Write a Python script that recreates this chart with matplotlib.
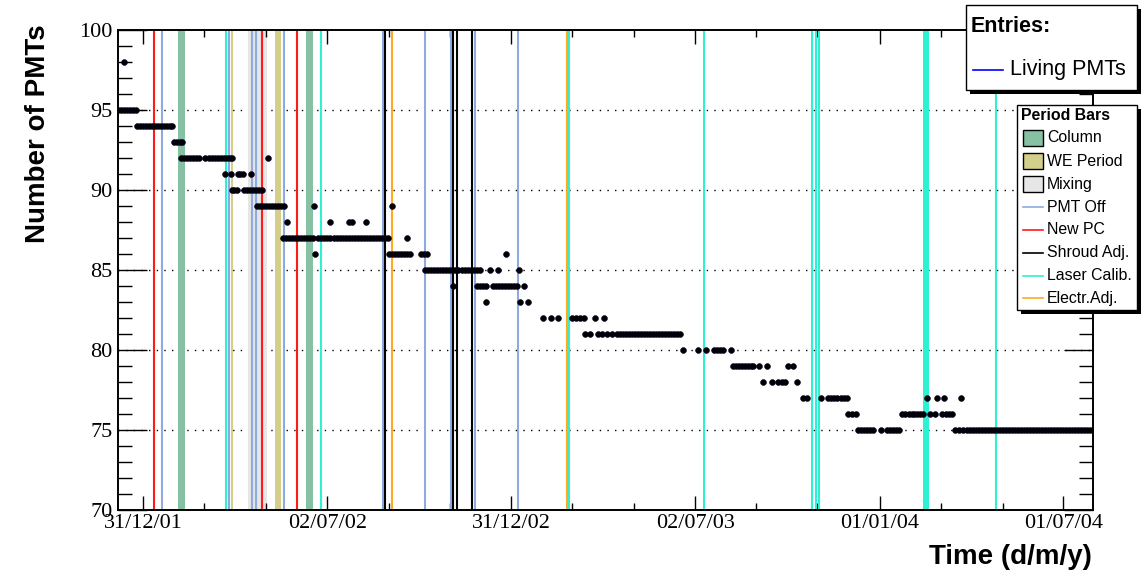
import numpy as np
import matplotlib
matplotlib.use('Agg')
import matplotlib.pyplot as plt
import matplotlib.dates as mdates
from matplotlib.patches import Rectangle

# ---------------- data ----------------
START = '2001-12-31'          # day offsets below are counted from this date

# Living PMTs : day offsets (from START) for each PMT count
d98 = [-19]
d95 = [-25, -22, -19, -16, -13, -10, -7]
d94 = [-6, -3, 0, 3, 6, 9, 12, 15, 18, 21, 24, 27, 29]
d93 = [31, 34, 37, 39]
d92 = [38, 41, 44, 47, 50, 53, 56, 62, 65, 68, 71, 74, 77, 80, 83, 86, 88, 124]
d91 = [81, 87, 94, 96, 99, 107]
d90 = [88, 90, 93, 100, 103, 106, 109, 112, 115, 118]
d89 = [113, 116, 119, 122, 125, 128, 131, 134, 137, 140, 170, 247]
d88 = [143, 186, 204, 207, 221]
d87 = [139, 142, 145, 148, 151, 154, 157, 160, 163, 166, 169, 174, 177, 180, 183,
       186, 189, 192, 195, 198, 201, 204, 207, 210, 213, 216, 219, 222, 225, 228,
       231, 234, 237, 240, 243, 262]
d86 = [171, 244, 247, 250, 253, 256, 259, 262, 265, 276, 279, 282, 360]
d85 = [280, 283, 286, 289, 292, 295, 298, 301, 304, 307, 310, 313, 316, 319, 322,
       325, 328, 331, 334, 344, 352, 373]
d84 = [308, 331, 334, 337, 340, 347, 350, 353, 356, 359, 362, 365, 368, 371, 378]
d83 = [340, 374, 382]
d82 = [397, 405, 412, 426, 430, 434, 438, 448, 457]
d81 = [439, 443, 451, 455, 460, 465, 470, 473, 476, 479, 482, 485, 488, 491, 494,
       497, 500, 503, 506, 509, 512, 515, 518, 521, 524, 527, 530, 533]
d80 = [536, 551, 559, 566, 569, 572, 575, 583]
d79 = [585, 588, 591, 594, 597, 600, 603, 605, 611, 619, 640, 645]
d78 = [615, 624, 630, 634, 637, 649]
d77 = [655, 659, 673, 680, 683, 686, 689, 692, 695, 698, 778, 788, 795, 812]
d76 = [699, 703, 707, 753, 756, 760, 763, 765, 768, 771, 774, 781, 786, 793, 797,
       800, 803]
d75 = [709, 712, 715, 718, 721, 724, 732, 738, 741, 744, 747, 750, 806, 810, 814,
       817, 820, 823, 826, 829, 832, 835, 838, 841, 844, 847, 850, 853, 856, 859,
       862, 865, 868, 871, 874, 877, 880, 883, 886, 889, 892, 895, 898, 901, 904,
       907, 910, 913, 916, 919, 922, 925, 928, 931, 934, 937, 940]

pmt_levels = [98, 95, 94, 93, 92, 91, 90, 89, 88, 87, 86, 85, 84, 83, 82, 81, 80,
              79, 78, 77, 76, 75]
pmt_day_lists = [d98, d95, d94, d93, d92, d91, d90, d89, d88, d87, d86, d85, d84,
                 d83, d82, d81, d80, d79, d78, d77, d76, d75]

# Period bars (day offsets)
column_bands = [(34.7, 41.7), (161.7, 168.7)]
we_bands = [(87.3, 89.3), (131.0, 137.0)]
mixing_bands = [(104.0, 123.0)]
pmt_off_days = [18.8, 85.8, 108.0, 112.6, 140.0, 238.0, 280.0, 306.0, 329.0, 372.0]
new_pc_days = [10.9, 118.0, 153.0]
shroud_days = [240.0, 308.0, 312.0, 326.0]
laser_days = [82.8, 176.6, 422.6, 556.5, 664.0, 667.7, 670.6, 775.0, 777.0, 779.0, 846.0]
electr_days = [152.3, 247.0, 420.6]

# axis ticks
tick_dates = ['2001-12-31', '2002-07-02', '2002-12-31', '2003-07-02', '2004-01-01', '2004-07-01']
tick_labels = ['31/12/01', '02/07/02', '31/12/02', '02/07/03', '01/01/04', '01/07/04']
minor_tick_days = [61, 122, 244, 305, 426, 487, 608, 669, 792, 853]
x_range_days = (-24.8, 942.5)
y_range = (70, 100)

# colours
c_column = '#85c1a2'
c_we = '#d3cf8b'
c_mixing = '#e6e6e6'
c_pmtoff = '#8eaadf'
c_newpc = '#ff1a1a'
c_shroud = '#000000'
c_laser = '#2ef0d2'
c_electr = '#ffaa22'

# ---------------- figure ----------------
W, H = 1143, 576
fig = plt.figure(figsize=(W / 100, H / 100), dpi=100)
fig.patch.set_facecolor('white')

L, R, T, B = 118, 1093, 30, 510
ax = fig.add_axes([L / W, 1 - B / H, (R - L) / W, (B - T) / H])

base = mdates.date2num(np.datetime64(START))

def X(d):
    return base + np.asarray(d, dtype=float)

# grid
for v in [75, 80, 85, 90, 95]:
    ax.axhline(v, color='black', lw=1.0, ls=(0, (1, 4.5)), zorder=0.5)

# bands
for a, b in mixing_bands:
    ax.axvspan(X(a), X(b), color=c_mixing, lw=0, zorder=1)
for a, b in we_bands:
    ax.axvspan(X(a), X(b), color=c_we, lw=0, zorder=1.1)
for a, b in column_bands:
    ax.axvspan(X(a), X(b), color=c_column, lw=0, zorder=1.1)

lw_v = 1.5
for d in pmt_off_days:
    ax.axvline(X(d), color=c_pmtoff, lw=lw_v, zorder=2)
for d in laser_days:
    ax.axvline(X(d), color=c_laser, lw=lw_v, zorder=2)
for d in electr_days:
    ax.axvline(X(d), color=c_electr, lw=lw_v, zorder=2)
for d in new_pc_days:
    ax.axvline(X(d), color=c_newpc, lw=lw_v, zorder=2)
for d in shroud_days:
    ax.axvline(X(d), color=c_shroud, lw=lw_v, zorder=2)

# data points
for lev, days in zip(pmt_levels, pmt_day_lists):
    ax.plot(X(days), [lev] * len(days), ls='none', marker='o', ms=4.2,
            mfc='black', mec='#000030', mew=0.4, zorder=5, clip_on=True)

ax.set_xlim(X(x_range_days[0]), X(x_range_days[1]))
ax.set_ylim(*y_range)

ax.set_xticks([mdates.date2num(np.datetime64(t)) for t in tick_dates])
ax.set_xticklabels(tick_labels)
ax.set_xticks(X(minor_tick_days), minor=True)
ax.set_yticks([70, 75, 80, 85, 90, 95, 100])
ax.set_yticks(np.arange(70, 101, 1), minor=True)

for lab in ax.get_xticklabels() + ax.get_yticklabels():
    lab.set_family('Liberation Serif')
    lab.set_fontsize(16)

ax.tick_params(axis='both', which='both', direction='in', top=True, right=True,
               width=1.0, color='black')
ax.tick_params(axis='x', which='major', length=10.4, pad=3)
ax.tick_params(axis='x', which='minor', length=5.2)
ax.tick_params(axis='y', which='major', length=20.9, pad=4)
ax.tick_params(axis='y', which='minor', length=10.4)
for s in ax.spines.values():
    s.set_linewidth(1.4)
    s.set_zorder(6)

# ---------------- overlay (titles, legends) ----------------
ov = fig.add_axes([0, 0, 1, 1], zorder=10)
ov.set_xlim(0, W)
ov.set_ylim(H, 0)
ov.axis('off')
ov.patch.set_alpha(0)

sans = 'Liberation Sans'
ov.text(1092, 557, 'Time (d/m/y)', ha='right', va='center', fontsize=20,
        fontweight='bold', family=sans)
ov.text(38, 24, 'Number of PMTs', ha='center', va='top', rotation=90, fontsize=20,
        fontweight='bold', family=sans)

# Entries box
sh = 4
ov.add_patch(Rectangle((966 + sh, 5 + sh), 171, 85, fc='black', ec='none'))
ov.add_patch(Rectangle((966, 5), 171, 85, fc='white', ec='black', lw=1.0))
ov.text(971, 27, 'Entries:', ha='left', va='center', fontsize=15.5,
        fontweight='bold', family=sans)
ov.plot([973, 1003], [70, 70], color='blue', lw=1.2)
ov.text(1010, 70, 'Living PMTs', ha='left', va='center', fontsize=15.5, family=sans)

# Period Bars box
bx0, by0, bw, bh = 1017, 105, 120, 205
ov.add_patch(Rectangle((bx0 + sh, by0 + sh), bw, bh, fc='black', ec='none'))
ov.add_patch(Rectangle((bx0, by0), bw, bh, fc='white', ec='black', lw=1.0))
ov.text(1021, 116, 'Period Bars', ha='left', va='center', fontsize=11.4,
        fontweight='bold', family=sans)
rows = [138, 161, 184, 207, 230, 253, 276, 298]
names = ['Column', 'WE Period', 'Mixing', 'PMT Off', 'New PC', 'Shroud Adj.',
         'Laser Calib.', 'Electr.Adj.']
kinds = ['box', 'box', 'box', 'line', 'line', 'line', 'line', 'line']
cols = [c_column, c_we, c_mixing, c_pmtoff, c_newpc, c_shroud, c_laser, c_electr]
for yy, nm, kd, cc in zip(rows, names, kinds, cols):
    if kd == 'box':
        ov.add_patch(Rectangle((1023, yy - 8), 20, 16, fc=cc, ec='black', lw=1.0))
    else:
        ov.plot([1023, 1043], [yy, yy], color=cc, lw=1.2)
    ov.text(1047, yy, nm, ha='left', va='center', fontsize=11.4, family=sans)

fig.savefig('out.png', dpi=100)
